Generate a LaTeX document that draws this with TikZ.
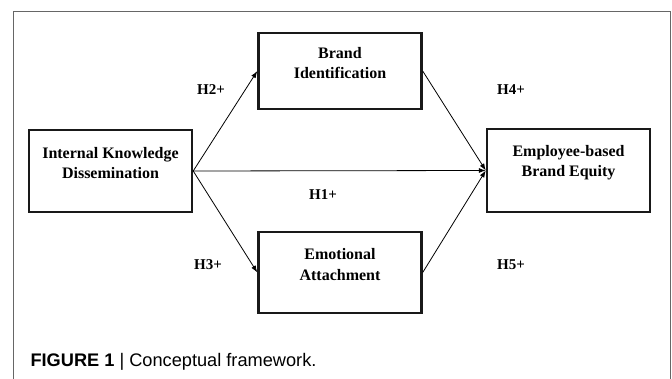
\documentclass[tikz,border=0pt]{standalone}
\usepackage{fontspec}
\setmainfont{Liberation Serif}
\newfontfamily\capfont{Liberation Sans}
\usetikzlibrary{arrows.meta}
\begin{document}
\begin{tikzpicture}[x=1pt,y=-1pt,
  box/.style={draw=black!90,line width=2.4pt,minimum width=163pt,inner sep=0pt},
  boxtext/.style={font=\bfseries\fontsize{16}{20.5}\selectfont,align=center},
  hyp/.style={font=\bfseries\fontsize{15}{17}\selectfont},
  conn/.style={line width=0.8pt,-{Latex[length=7pt,width=5pt]}}]
\useasboundingbox (0,0) rectangle (672,379);
\draw[black!60,line width=1pt] (13,379) -- (13,11.5) -- (670,11.5) -- (670,379);
\node[box,minimum height=82pt,label={[boxtext,yshift=8pt]center:Internal Knowledge\\Dissemination}] (ikd) at (110.5,171) {};
\node[box,minimum height=76pt,label={[boxtext,yshift=8pt]center:Brand\\Identification}] (bi) at (340,71) {};
\node[box,minimum height=81pt,label={[boxtext,yshift=8pt]center:Emotional\\Attachment}] (ea) at (340,272.5) {};
\node[box,minimum height=83pt,label={[boxtext,yshift=8pt]center:Employee-based\\Brand Equity}] (ebe) at (568.5,170.5) {};
\draw[conn] (ikd.east) -- (bi.west);
\draw[conn] (ikd.east) -- (ea.west);
\draw[conn] (ikd.east) -- (ebe.west);
\draw[conn] (bi.east) -- (ebe.west);
\draw[conn] (ea.east) -- (ebe.west);
\node[hyp] (h2) at (211,90) {H2+};
\node[hyp] (h4) at (511,90) {H4+};
\node[hyp] (h1) at (323,195) {H1+};
\node[hyp] (h3) at (208,265) {H3+};
\node[hyp] (h5) at (511,265) {H5+};
\node[anchor=west,font=\capfont\fontsize{18.2}{20}\selectfont] (cap) at (27,362) {\textbf{FIGURE 1} | Conceptual framework.};
\end{tikzpicture}
\end{document}
